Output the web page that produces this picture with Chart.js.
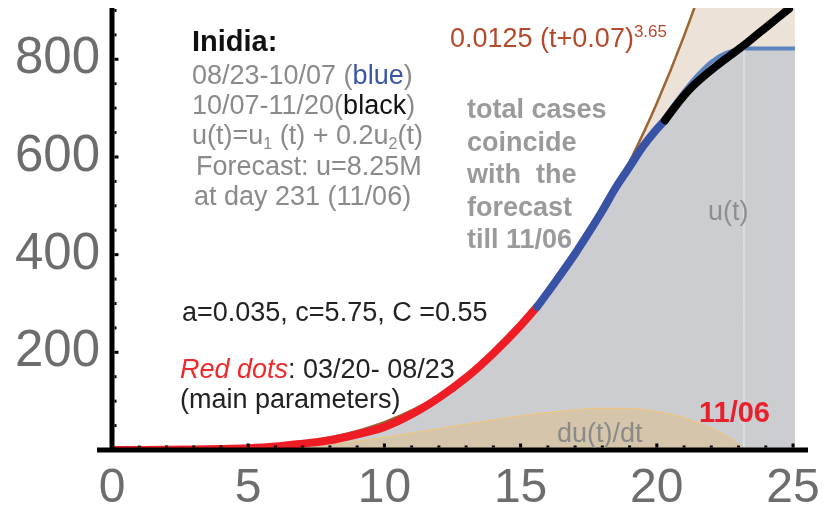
<!DOCTYPE html>
<html>
<head>
<meta charset="utf-8">
<script src="https://cdn.jsdelivr.net/npm/chart.js@4.4.1/dist/chart.umd.min.js"></script>
<style>
  html, body { margin: 0; padding: 0; background: #fff; }
</style>
</head>
<body>
<canvas id="indiaChart" width="824" height="514"></canvas>
<script>
// t in units of 10 days from 03/20, cases in units of 10^4

// Red dots: 03/20 - 08/23
const redT = [0, 1, 2, 3, 4, 5, 6, 7, 8, 9, 10, 11, 12, 13, 14, 15, 15.6];
const redU = [0, 0.1, 0.3, 0.8, 1.8, 3.5, 7, 13, 20, 32, 47, 73, 107, 148, 198, 255, 293];

// blue dots: 08/23 - 10/07
const blueT = [15.6, 16, 16.5, 17, 17.5, 18, 18.5, 19, 19.5, 20, 20.3];
const blueU = [293, 323, 362, 402, 445, 490, 538, 580, 622, 657, 675];

// black dots: 10/07 - 11/20
const blackT = [20.3, 20.7, 21.2, 21.7, 22.2, 22.7, 23.2, 23.6, 24, 24.4, 24.85];
const blackU = [675, 705, 738, 764, 787, 808, 829, 847, 865, 883, 903];

// u(t) forecast, flat after day 231 (11/06)
const fitT = [0, 2, 4, 5, 6, 7, 8, 9, 10, 11, 12, 13, 14, 15, 16, 17, 18, 19, 20, 20.5, 21, 21.5, 22, 22.5, 23, 23.2, 25.07];
const fitU = [0, 0.3, 2, 4.2, 8.2, 14.5, 23, 36, 53, 77, 109, 148, 196, 253, 322, 403, 490, 578, 660, 698, 735, 768, 795, 812, 820, 822, 822];

// 0.0125 (t+0.07)^3.65
const powT = [0, 1, 2, 3, 4, 5, 6, 7, 8, 9, 10, 11, 12, 13, 14, 15, 16, 17, 18, 19, 20, 21, 22, 23, 24, 25.07];
const powU = [0, 0.02, 0.18, 0.75, 2.1, 4.7, 9, 15.8, 25.5, 39, 57, 81, 111, 148, 194, 250, 316, 393, 484, 590, 710, 848, 1005, 1180, 1375, 1600];

// du(t)/dt (scaled)
const duT = [0, 2, 4, 6, 7, 8, 9, 10, 11, 12, 13, 14, 15, 16, 17, 18, 19, 20, 21, 22, 22.5, 23, 23.2];
const duU = [0, 0.5, 2, 5, 8, 12, 18, 26, 35, 44, 53, 62, 70, 77, 82, 85.5, 85, 79, 66, 45, 31, 12, 0];

const markT = 23.2;
const markU = 822;

const xTicks = [0, 5, 10, 15, 20, 25];
const yTicks = [200, 400, 600, 800];

const SANS = '"Liberation Sans", Arial, sans-serif';
const GREY = '#8a8a8a';

const pts = (ts, us) => ts.map((t, i) => ({ x: t, y: us[i] }));

function drawRuns(ctx, x, y, runs) {
    runs.forEach(r => {
        ctx.font = r.f;
        ctx.fillStyle = r.c;
        ctx.fillText(r.t, x, y + (r.dy || 0));
        x += ctx.measureText(r.t).width;
    });
}

// axes, inward ticks and the annotations
const decor = {
    id: 'decor',
    afterDraw(chart) {
        const { ctx, chartArea, scales: { x, y } } = chart;
        const x0 = x.getPixelForValue(0);
        const y0 = y.getPixelForValue(0);
        ctx.save();
        ctx.fillStyle = '#000';
        ctx.fillRect(x0 - 2.5, chartArea.top, 5, y0 - chartArea.top + 2);
        ctx.fillRect(x0 - 15, y0 - 2.5, chartArea.right - x0 + 15, 5);
        for (let v = 1; v <= 25; v++) {
            const px = x.getPixelForValue(v);
            const len = v % 5 === 0 ? 4 : 2;
            ctx.fillRect(px - 1.5, y0 - 2.5 - len, 3, len);
        }
        for (let v = 50; v <= 900; v += 50) {
            const py = y.getPixelForValue(v);
            const len = v % 200 === 0 ? 4 : 2;
            ctx.fillRect(x0 + 2.5, py - 1.5, len, 3);
        }

        ctx.textAlign = 'left';
        ctx.textBaseline = 'alphabetic';
        const g27 = '27px ' + SANS;

        drawRuns(ctx, 192, 51, [{ t: 'Inidia:', f: 'bold 29px ' + SANS, c: '#111' }]);
        drawRuns(ctx, 192, 84, [
            { t: '08/23-10/07 (', f: g27, c: GREY },
            { t: 'blue', f: g27, c: '#3b56a6' },
            { t: ')', f: g27, c: GREY }
        ]);
        drawRuns(ctx, 192, 114, [
            { t: '10/07-11/20(', f: g27, c: GREY },
            { t: 'black', f: g27, c: '#111' },
            { t: ')', f: g27, c: GREY }
        ]);
        drawRuns(ctx, 192, 144, [
            { t: 'u(t)=u', f: g27, c: GREY },
            { t: '1', f: '16px ' + SANS, c: GREY, dy: 5 },
            { t: ' (t) + 0.2u', f: g27, c: GREY },
            { t: '2', f: '16px ' + SANS, c: GREY, dy: 5 },
            { t: '(t)', f: g27, c: GREY }
        ]);
        drawRuns(ctx, 196, 175, [{ t: 'Forecast: u=8.25M', f: g27, c: GREY }]);
        drawRuns(ctx, 194, 205, [{ t: 'at day 231 (11/06)', f: g27, c: GREY }]);

        drawRuns(ctx, 450, 47, [
            { t: '0.0125 (t+0.07)', f: g27, c: '#b24a2b' },
            { t: '3.65', f: '17px ' + SANS, c: '#b24a2b', dy: -10 }
        ]);

        const boldGrey = 'bold 27px ' + SANS;
        ['total cases', 'coincide', 'with  the', 'forecast', 'till 11/06'].forEach((s, i) => {
            drawRuns(ctx, 467, 118 + i * 32.5, [{ t: s, f: boldGrey, c: '#9a9a9c' }]);
        });

        drawRuns(ctx, 708, 220, [{ t: 'u(t)', f: g27, c: '#8f8f8f' }]);
        drawRuns(ctx, 182, 321, [{ t: 'a=0.035, c=5.75, C =0.55', f: g27, c: '#222' }]);
        drawRuns(ctx, 180, 378, [
            { t: 'Red dots', f: 'italic 27px ' + SANS, c: '#ee2a2a' },
            { t: ': 03/20- 08/23', f: g27, c: '#222' }
        ]);
        drawRuns(ctx, 180, 408, [{ t: '(main parameters)', f: g27, c: '#222' }]);
        drawRuns(ctx, 699, 422, [{ t: '11/06', f: 'bold 29px ' + SANS, c: '#e8202a' }]);
        drawRuns(ctx, 557, 442, [{ t: 'du(t)/dt', f: g27, c: GREY }]);
        ctx.restore();
    }
};

const lineBase = { pointRadius: 0, clip: 0, cubicInterpolationMode: 'monotone' };

new Chart(document.getElementById('indiaChart'), {
    type: 'line',
    data: {
        datasets: [
            { ...lineBase, label: 'black', data: pts(blackT, blackU), borderColor: '#000', borderWidth: 8, borderCapStyle: 'round', fill: false, order: 1 },
            { ...lineBase, label: 'blue', data: pts(blueT, blueU), borderColor: '#3853a6', borderWidth: 8, borderCapStyle: 'round', fill: false, order: 2 },
            { ...lineBase, label: 'red', data: pts(redT, redU), borderColor: '#ee1c25', borderWidth: 8, borderCapStyle: 'round', fill: false, order: 3 },
            { ...lineBase, label: 'power', data: pts(powT, powU), borderColor: '#9c6431', borderWidth: 2.5, fill: false, order: 4 },
            { ...lineBase, label: 'mark', data: [{ x: markT, y: 0 }, { x: markT, y: markU }], borderColor: 'rgba(240,240,240,0.9)', borderWidth: 1, fill: false, order: 5 },
            { ...lineBase, label: 'du', data: pts(duT, duU), borderColor: '#f3c67a', borderWidth: 1, backgroundColor: '#d5c5aa', fill: 'origin', order: 6 },
            { ...lineBase, label: 'u', data: pts(fitT, fitU), borderColor: '#5b84c1', borderWidth: 4, backgroundColor: '#cccdd1', fill: 'origin', order: 7 },
            { ...lineBase, label: 'powFill', data: pts(powT, powU), borderWidth: 0, borderColor: 'rgba(0,0,0,0)', backgroundColor: '#ede2d8', fill: 'origin', order: 8 }
        ]
    },
    options: {
        responsive: false,
        devicePixelRatio: 1,
        animation: false,
        layout: { padding: { top: 8, right: 16, left: 0, bottom: 0 } },
        plugins: { legend: { display: false }, tooltip: { enabled: false } },
        scales: {
            x: {
                type: 'linear',
                min: 0,
                max: 25.55,
                afterFit: s => { s.height = 64; s.paddingLeft = 0; s.paddingRight = 0; },
                afterBuildTicks: s => { s.ticks = xTicks.map(v => ({ value: v })); },
                grid: { display: false, drawTicks: false },
                border: { display: false },
                ticks: { color: '#6d6d6d', font: { family: SANS, size: 48 }, padding: 10, maxRotation: 0, autoSkip: false }
            },
            y: {
                min: 0,
                max: 905,
                afterFit: s => { s.width = 112; s.paddingTop = 0; s.paddingBottom = 0; },
                afterBuildTicks: s => { s.ticks = yTicks.map(v => ({ value: v })); },
                grid: { display: false, drawTicks: false },
                border: { display: false },
                ticks: { color: '#6d6d6d', font: { family: SANS, size: 51 }, padding: 12 }
            }
        }
    },
    plugins: [decor]
});
</script>
</body>
</html>
